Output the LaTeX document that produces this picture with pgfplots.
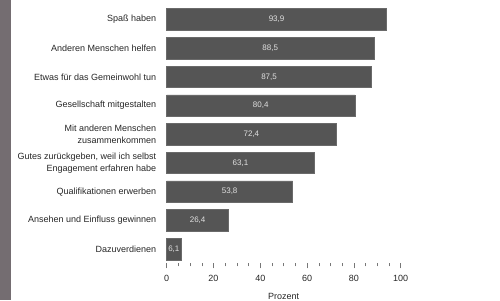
\documentclass[border=0pt]{standalone}
\usepackage{pgfplots}
\pgfplotsset{compat=1.18}
\usepackage{pgfplotstable}
\usepackage{fontspec}
\setmainfont{Liberation Sans}
\definecolor{barc}{HTML}{555555}
\definecolor{bare}{HTML}{6A6A6A}
\definecolor{strip}{HTML}{746D71}
\definecolor{tickc}{HTML}{777777}
\pgfplotstableread{
idx val lbl
8 93.9 93,9
7 88.5 88,5
6 87.5 87,5
5 80.4 80,4
4 72.4 72,4
3 63.1 63,1
2 53.8 53,8
1 26.4 26,4
0 6.1 6,1
}\data
\begin{document}
\begin{tikzpicture}[x=1pt,y=1pt]
\useasboundingbox (0,0) rectangle (500,300);
\fill[strip] (0,0) rectangle (11,300);
\begin{axis}[
  at={(166.7pt,36.65pt)}, anchor=south west,
  scale only axis, width=234pt, height=258.3pt,
  xmin=0, xmax=100, ymin=-0.5, ymax=8.5,
  axis line style={draw=none},
  xtick={0,20,40,60,80,100}, minor x tick num=3,
  xtick pos=bottom,
  tick align=outside,
  major tick length=5pt, minor tick length=3pt,
  xtick style={draw=tickc, line width=0.6pt},
  minor x tick style={draw=tickc, line width=0.5pt},
  ytick={0,...,8}, ytick style={draw=none},
  yticklabels={{Dazuverdienen},{Ansehen und Einfluss gewinnen},{Qualifikationen erwerben},{Gutes zurückgeben, weil ich selbst\\Engagement erfahren habe},{Mit anderen Menschen\\zusammenkommen},{Gesellschaft mitgestalten},{Etwas für das Gemeinwohl tun},{Anderen Menschen helfen},{Spaß haben}},
  yticklabel style={font=\fontsize{9}{12.3}\selectfont, align=right, text=black!85, xshift=-2pt},
  xticklabel style={font=\fontsize{9}{11}\selectfont, text=black!85, yshift=-3pt},
  /pgf/number format/assume math mode=true,
  xlabel={Prozent},
  xlabel style={font=\fontsize{9}{11}\selectfont, text=black!85, yshift=-5pt},
  clip=false,
]
\addplot[xbar, bar width=21.5pt, fill=barc, draw=bare, line width=0.5pt] table[x=val, y=idx] {\data};
\addplot[draw=none, mark=none, forget plot,
  nodes near coords, point meta=explicit symbolic,
  nodes near coords style={anchor=center, font=\fontsize{8}{9}\selectfont, text=black!12}]
  table[x expr=\thisrow{val}/2, y=idx, meta=lbl] {\data};
\end{axis}
\end{tikzpicture}
\end{document}
